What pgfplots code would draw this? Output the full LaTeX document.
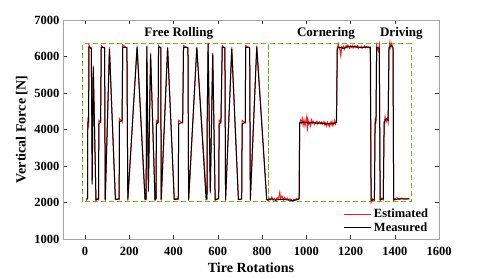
\documentclass[border=0pt]{standalone}
\usepackage{fontspec}
\setmainfont{Liberation Serif}
\usepackage{pgfplots}
\pgfplotsset{compat=1.18}
\definecolor{boxgreen}{RGB}{110,185,20}
\begin{document}
\begin{tikzpicture}
\begin{axis}[
  at={(63pt,38pt)}, anchor=south west,
  scale only axis, width=376pt, height=219pt,
  xmin=-100, xmax=1600, ymin=1000, ymax=7000,
  xtick={0,200,...,1600}, ytick={1000,2000,...,7000},
  tick align=inside, major tick length=4pt,
  axis line style={gray!70, line width=0.8pt},
  tick style={black!80, line width=0.5pt},
  /pgf/number format/assume math mode=true,
  /pgf/number format/1000 sep={},
  ticklabel style={font=\fontsize{12.5}{14}\selectfont\bfseries},
  xticklabel style={yshift=-5pt},
  xlabel={Tire Rotations}, ylabel={Vertical Force [N]},
  label style={font=\fontsize{14}{16}\selectfont\bfseries},
  legend style={draw=none, fill=none, at={(0.985,0.01)}, anchor=south east,
    font=\fontsize{12.5}{14}\selectfont\bfseries, row sep=-1pt},
  legend cell align=left,
  legend image code/.code={\draw[#1] (0pt,0pt) -- (27pt,0pt);},
]
\draw[boxgreen, line width=1.2pt, dash pattern=on 5pt off 3pt] (axis cs:-11.8,2027) rectangle (axis cs:829.1,6356);
\draw[boxgreen, line width=1.2pt, dash pattern=on 5pt off 3pt] (axis cs:829.1,2027) rectangle (axis cs:1475.6,6356);
\addplot[red!90, line width=1pt] coordinates {
(5,2050) (11,2120) (12,4250) (16,4150) (17,6320) (28,6200) (32,2600) (37,5750) (49,2050) (55,2120) (61,2080)
(62,4250) (70,4200) (73,6300) (88,6220) (91,2050) (110,6250) (129,3250) (137,2100) (154,2080)
(155,4300) (167,4200) (170,6320) (189,6230) (193,2050) (235,6300) (271,2100) (276,2080)
(277,4250) (279,6300) (286,2350) (296,6100) (316,2060) (321,2120) (322,4250) (330,4200) (332,6300) (342,6230)
(344,2050) (373,6230) (403,2120) (421,2080) (423,4250) (441,4180) (445,6300) (465,6230) (468,2050)
(505,6250) (547,2300) (551,2080) (552,4250) (556,6380) (566,2250) (577,6100) (588,2060) (604,2120)
(606,4250) (614,4180) (620,6300) (632,6230) (635,2050) (663,6250) (693,2100) (708,2080)
(710,4250) (724,4180) (726,6300) (744,6230) (747,2050) (776,6300) (821,2100)
(826,2050) (832,2120) (838,2080) (844,2150) (850,2070) (856,2110) (862,2060) (868,2130) (874,2090) (880,2280) (884,2100) (890,2180) (896,2070) (902,2140) (908,2090) (914,2120) (920,2060) (926,2100) (932,2080) (938,2050) (944,2090) (950,2070) (956,2110) (962,2080) (967,2120)
(970,4150) (974,4250) (978,4180) (982,4300) (986,4120) (990,4250) (994,4100) (998,4220) (1002,4350) (1005,3950) (1008,4250) (1012,4150) (1016,4200) (1020,4100) (1024,4260) (1028,4180) (1032,4220) (1036,4140) (1040,4200) (1044,4170) (1048,4230) (1052,4150) (1056,4190) (1060,4210) (1064,4160) (1068,4200) (1072,4140) (1076,4180) (1080,4220) (1084,4120) (1088,4180) (1092,4100) (1096,4200) (1100,4150) (1104,4080) (1108,4200) (1112,4130) (1116,4220) (1120,4100) (1124,4160) (1128,4250) (1132,4150) (1136,4220)
(1140,6200) (1144,6350) (1148,6250) (1152,6180) (1156,6020) (1160,6260) (1164,6230) (1168,6280) (1172,6200) (1176,6260) (1180,6300) (1184,6240) (1188,6310) (1192,6260) (1196,6220) (1200,6290) (1204,6250) (1208,6300) (1212,6230) (1216,6270) (1220,6290) (1224,6240) (1228,6260) (1232,6300) (1236,6220) (1240,6260) (1244,6250) (1248,6280) (1252,6230) (1256,6270) (1260,6250) (1264,6290) (1268,6240) (1272,6270) (1276,6250) (1280,6260) (1284,6240) (1289,6260)
(1293,2000) (1300,2100) (1308,2050) (1311,4300) (1315,4150) (1318,6300) (1325,6150) (1330,6300) (1334,2050) (1341,2120) (1348,2080)
(1352,4150) (1356,4350) (1360,4200) (1366,4300) (1370,4200) (1374,6200) (1378,6400) (1382,6250) (1386,6350) (1392,6200) (1395,2050)
(1400,2100) (1410,2130) (1420,2080) (1430,2120) (1440,2100) (1450,2090) (1466,2110)
};
\addlegendentry{Estimated}
\addplot[black, line width=1pt] coordinates {
(5,2100) (11,2100) (12,4200) (16,4200) (17,6250) (28,6230) (32,2500) (37,5700) (49,2080) (55,2080) (61,2100)
(62,4150) (70,4200) (73,6250) (88,6250) (91,2080) (110,6200) (129,3300) (137,2080) (154,2100)
(155,4200) (167,4250) (170,6250) (189,6250) (193,2080) (235,6250) (271,2080) (276,2100)
(277,4200) (279,6280) (286,2300) (296,6050) (316,2080) (321,2100) (322,4150) (330,4200) (332,6250) (342,6250)
(344,2080) (373,6250) (403,2080) (421,2100) (423,4150) (441,4200) (445,6250) (465,6250) (468,2080)
(505,6250) (547,2080) (551,2100) (552,4200) (556,6350) (566,2300) (577,6050) (588,2080) (604,2100)
(606,4150) (614,4200) (620,6250) (632,6250) (635,2080) (663,6200) (693,2080) (708,2100)
(710,4150) (724,4200) (726,6250) (744,6250) (747,2080) (776,6250) (821,2080)
(830,2070) (845,2100) (860,2060) (880,2090) (900,2080) (920,2070) (940,2050) (960,2080) (968,2100)
(970,4180) (990,4200) (1010,4180) (1030,4190) (1050,4170) (1070,4180) (1090,4150) (1110,4160) (1130,4180) (1137,4200)
(1140,6230) (1150,6250) (1170,6220) (1190,6280) (1210,6270) (1230,6260) (1250,6240) (1270,6260) (1290,6250)
(1293,2050) (1308,2080) (1311,4150) (1315,4250) (1318,6250) (1330,6230) (1334,2080) (1348,2100)
(1352,4200) (1362,4300) (1370,4250) (1374,6250) (1386,6300) (1392,6250) (1395,2080)
(1400,2080) (1420,2100) (1440,2100) (1466,2100)
};
\addlegendentry{Measured}
\node[font=\fontsize{13}{15}\selectfont\bfseries] at (axis cs:423,6640) {Free Rolling};
\node[font=\fontsize{13}{15}\selectfont\bfseries] at (axis cs:1089,6640) {Cornering};
\node[font=\fontsize{13}{15}\selectfont\bfseries] at (axis cs:1430,6640) {Driving};
\end{axis}
\pgfresetboundingbox
\path (0,0) rectangle (485pt,277pt);
\end{tikzpicture}
\end{document}
